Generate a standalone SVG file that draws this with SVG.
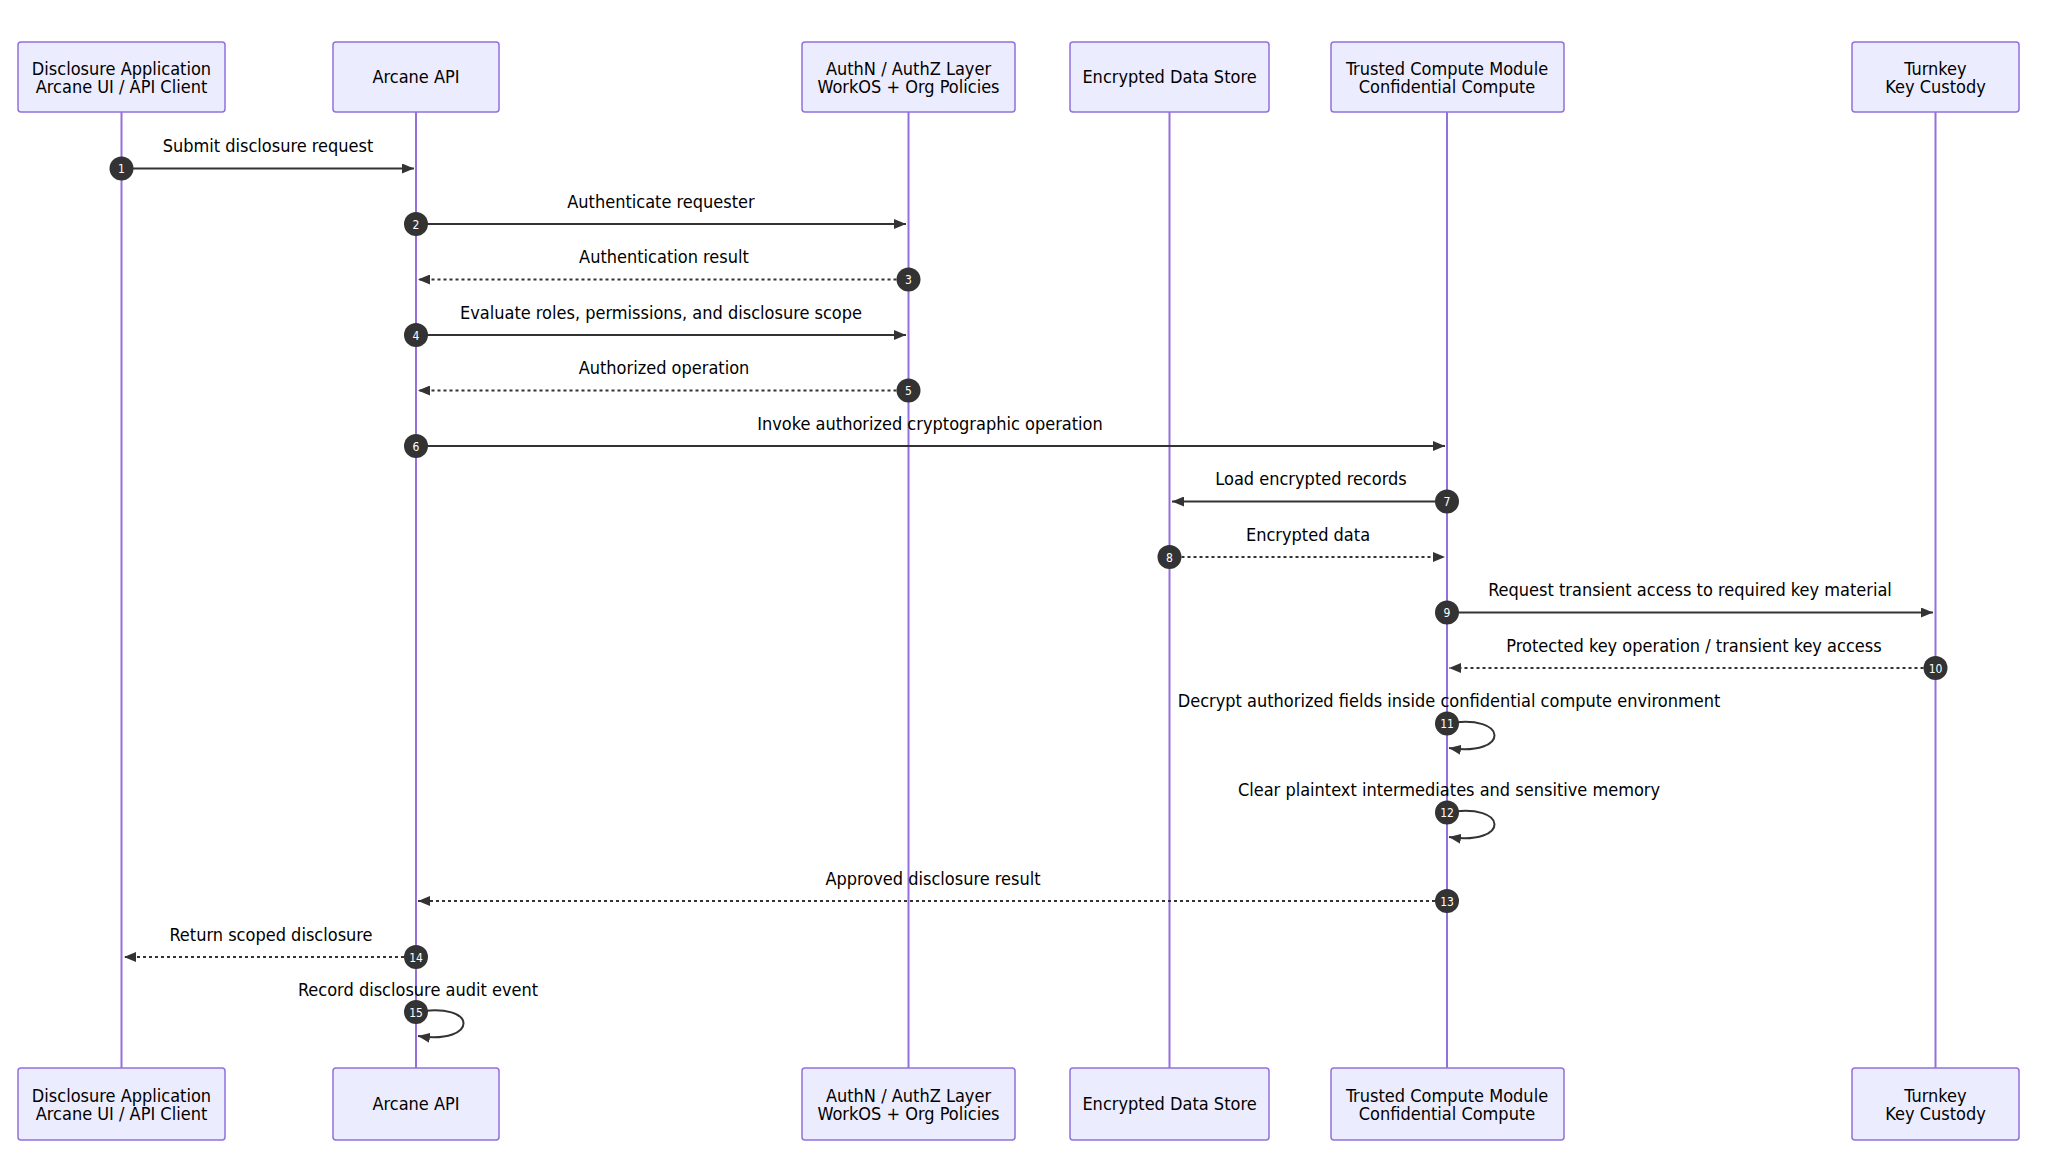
<svg xmlns="http://www.w3.org/2000/svg" width="2048" height="1167" viewBox="0 0 2048 1167">
<style>
.box{fill:#ECECFF;stroke:#9370DB;stroke-width:1.5}
.life{stroke:#9370DB;stroke-width:2}
.t{font-family:"DejaVu Sans Condensed","DejaVu Sans",sans-serif;font-size:18px;fill:#000;text-anchor:middle}
.m{stroke:#333;stroke-width:2;fill:none}
.d{stroke-dasharray:3,3}
.b{fill:#333}
.bt{font-family:"DejaVu Sans Condensed","DejaVu Sans",sans-serif;font-size:12px;fill:#fff;text-anchor:middle}
</style>
<defs><marker id="a" viewBox="0 0 12 10" refX="12" refY="5" markerWidth="12" markerHeight="10" orient="auto-start-reverse" markerUnits="userSpaceOnUse"><path d="M0,0L12,5L0,10z" fill="#333"/></marker></defs>
<g id="lifelines">
<line class="life" x1="121.5" y1="112" x2="121.5" y2="1068"/>
<line class="life" x1="416" y1="112" x2="416" y2="1068"/>
<line class="life" x1="908.5" y1="112" x2="908.5" y2="1068"/>
<line class="life" x1="1169.5" y1="112" x2="1169.5" y2="1068"/>
<line class="life" x1="1447" y1="112" x2="1447" y2="1068"/>
<line class="life" x1="1935.5" y1="112" x2="1935.5" y2="1068"/>
</g>
<g id="p1"><rect class="box" x="18" y="42" width="207" height="70" rx="3"/><text class="t" x="121.5" y="75">Disclosure Application</text><text class="t" x="121.5" y="93">Arcane UI / API Client</text>
<rect class="box" x="18" y="1068" width="207" height="72" rx="3"/><text class="t" x="121.5" y="1102">Disclosure Application</text><text class="t" x="121.5" y="1120">Arcane UI / API Client</text></g>
<g id="p2"><rect class="box" x="333" y="42" width="166" height="70" rx="3"/><text class="t" x="416" y="83">Arcane API</text>
<rect class="box" x="333" y="1068" width="166" height="72" rx="3"/><text class="t" x="416" y="1110">Arcane API</text></g>
<g id="p3"><rect class="box" x="802" y="42" width="213" height="70" rx="3"/><text class="t" x="908.5" y="75">AuthN / AuthZ Layer</text><text class="t" x="908.5" y="93">WorkOS + Org Policies</text>
<rect class="box" x="802" y="1068" width="213" height="72" rx="3"/><text class="t" x="908.5" y="1102">AuthN / AuthZ Layer</text><text class="t" x="908.5" y="1120">WorkOS + Org Policies</text></g>
<g id="p4"><rect class="box" x="1070" y="42" width="199" height="70" rx="3"/><text class="t" x="1169.5" y="83">Encrypted Data Store</text>
<rect class="box" x="1070" y="1068" width="199" height="72" rx="3"/><text class="t" x="1169.5" y="1110">Encrypted Data Store</text></g>
<g id="p5"><rect class="box" x="1331" y="42" width="233" height="70" rx="3"/><text class="t" x="1447" y="75">Trusted Compute Module</text><text class="t" x="1447" y="93">Confidential Compute</text>
<rect class="box" x="1331" y="1068" width="233" height="72" rx="3"/><text class="t" x="1447" y="1102">Trusted Compute Module</text><text class="t" x="1447" y="1120">Confidential Compute</text></g>
<g id="p6"><rect class="box" x="1852" y="42" width="167" height="70" rx="3"/><text class="t" x="1935.5" y="75">Turnkey</text><text class="t" x="1935.5" y="93">Key Custody</text>
<rect class="box" x="1852" y="1068" width="167" height="72" rx="3"/><text class="t" x="1935.5" y="1102">Turnkey</text><text class="t" x="1935.5" y="1120">Key Custody</text></g>
<g id="connectors">
<line class="m" x1="121.5" y1="168.5" x2="414" y2="168.5" marker-end="url(#a)"/><text class="t" x="268" y="152">Submit disclosure request</text>
<line class="m" x1="416" y1="224" x2="906" y2="224" marker-end="url(#a)"/><text class="t" x="661" y="208">Authenticate requester</text>
<line class="m d" x1="908.5" y1="279.5" x2="418" y2="279.5" marker-end="url(#a)"/><text class="t" x="664" y="263">Authentication result</text>
<line class="m" x1="416" y1="335" x2="906" y2="335" marker-end="url(#a)"/><text class="t" x="661" y="319">Evaluate roles, permissions, and disclosure scope</text>
<line class="m d" x1="908.5" y1="390.5" x2="418" y2="390.5" marker-end="url(#a)"/><text class="t" x="664" y="374">Authorized operation</text>
<line class="m" x1="416" y1="446" x2="1445" y2="446" marker-end="url(#a)"/><text class="t" x="930" y="430">Invoke authorized cryptographic operation</text>
<line class="m" x1="1447" y1="501.5" x2="1172" y2="501.5" marker-end="url(#a)"/><text class="t" x="1311" y="485">Load encrypted records</text>
<line class="m d" x1="1169.5" y1="557" x2="1445" y2="557" marker-end="url(#a)"/><text class="t" x="1308" y="541">Encrypted data</text>
<line class="m" x1="1447" y1="612.5" x2="1933" y2="612.5" marker-end="url(#a)"/><text class="t" x="1690" y="596">Request transient access to required key material</text>
<line class="m d" x1="1935.5" y1="668" x2="1449" y2="668" marker-end="url(#a)"/><text class="t" x="1694" y="652">Protected key operation / transient key access</text>
<path class="m" d="M1447,723.5 C1510,713 1510,757 1449,748" marker-end="url(#a)"/><text class="t" x="1449" y="707">Decrypt authorized fields inside confidential compute environment</text>
<path class="m" d="M1447,812.5 C1510,802 1510,846 1449,837" marker-end="url(#a)"/><text class="t" x="1449" y="796">Clear plaintext intermediates and sensitive memory</text>
<line class="m d" x1="1447" y1="901" x2="418" y2="901" marker-end="url(#a)"/><text class="t" x="933" y="885">Approved disclosure result</text>
<line class="m d" x1="416" y1="957" x2="124" y2="957" marker-end="url(#a)"/><text class="t" x="271" y="941">Return scoped disclosure</text>
<path class="m" d="M416,1012 C479,1001 479,1045 418,1036" marker-end="url(#a)"/><text class="t" x="418" y="996">Record disclosure audit event</text>
</g>
<g id="badges">
<circle class="b" cx="121.5" cy="168.5" r="12"/><text class="bt" x="121.5" y="173">1</text>
<circle class="b" cx="416" cy="224" r="12"/><text class="bt" x="416" y="228.5">2</text>
<circle class="b" cx="908.5" cy="279.5" r="12"/><text class="bt" x="908.5" y="284">3</text>
<circle class="b" cx="416" cy="335" r="12"/><text class="bt" x="416" y="339.5">4</text>
<circle class="b" cx="908.5" cy="390.5" r="12"/><text class="bt" x="908.5" y="395">5</text>
<circle class="b" cx="416" cy="446" r="12"/><text class="bt" x="416" y="450.5">6</text>
<circle class="b" cx="1447" cy="501.5" r="12"/><text class="bt" x="1447" y="506">7</text>
<circle class="b" cx="1169.5" cy="557" r="12"/><text class="bt" x="1169.5" y="561.5">8</text>
<circle class="b" cx="1447" cy="612.5" r="12"/><text class="bt" x="1447" y="617">9</text>
<circle class="b" cx="1935.5" cy="668" r="12"/><text class="bt" x="1935.5" y="672.5">10</text>
<circle class="b" cx="1447" cy="723.5" r="12"/><text class="bt" x="1447" y="728">11</text>
<circle class="b" cx="1447" cy="812.5" r="12"/><text class="bt" x="1447" y="817">12</text>
<circle class="b" cx="1447" cy="901" r="12"/><text class="bt" x="1447" y="905.5">13</text>
<circle class="b" cx="416" cy="957" r="12"/><text class="bt" x="416" y="961.5">14</text>
<circle class="b" cx="416" cy="1012" r="12"/><text class="bt" x="416" y="1016.5">15</text>
</g>
</svg>
